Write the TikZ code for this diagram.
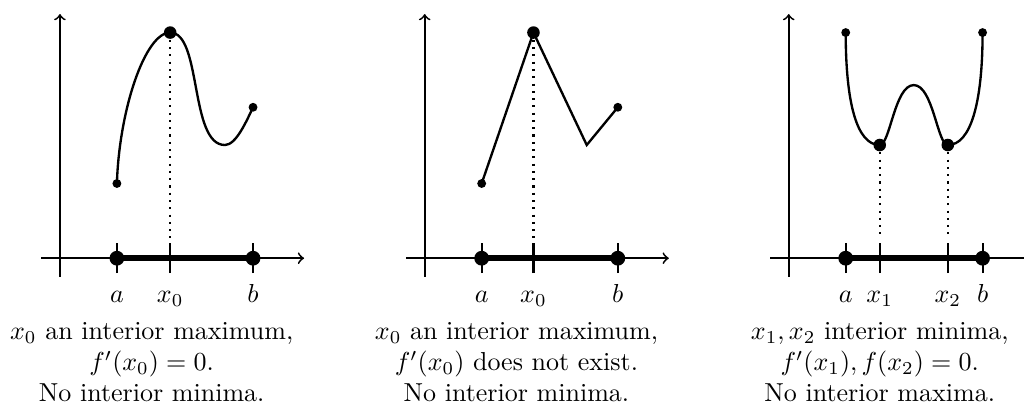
\documentclass[tikz,border=0pt]{standalone}
\usepackage{amsmath}
\usepackage{tikz}
\usetikzlibrary{positioning, calc}
\tikzset{
  eje/.style={line width=0.7pt},
  intervalo/.style={line width=2.2pt},
  marca/.style={line width=0.8pt},
  curva/.style={line width=0.9pt},
  guia/.style={dotted, line width=0.8pt},
  puntoeje/.style={circle, fill=black, inner sep=0pt, minimum size=2.0mm},
  puntoext/.style={circle, fill=black, inner sep=0pt, minimum size=1.7mm},
  puntoval/.style={circle, fill=black, inner sep=0pt, minimum size=1.2mm},
  etiqueta/.style={anchor=base, inner sep=0pt},
  leyenda/.style={align=center, anchor=north, inner sep=0pt}
}
% ejes de cada caso
\newcommand{\ejes}{
    \draw[eje,->] (-0.25,0) -- (3.3,0);
    \draw[eje,->] (0,-0.25) -- (0,3.3);
}

\begin{document}
\begin{tikzpicture}
        \clip (-0.81,-1.99) rectangle (13.03,3.49);

        % ==========================================
        % 1. Maximo interior con derivada cero
        % ==========================================
        \begin{scope}
        \ejes
        \coordinate (a1) at (0.77,0);
        \coordinate (x01) at (1.49,0);
        \coordinate (b1) at (2.61,0);
        \draw[intervalo] (a1) -- (b1);
        \foreach \p in {a1,x01,b1} \draw[marca] ($(\p)+(0,-0.2)$) -- ($(\p)+(0,0.2)$);

        % Curva
        \coordinate (fa1) at (0.77,1.01);
        \coordinate (M1) at (1.49,3.05);
        \coordinate (m1) at (2.23,1.53);
        \coordinate (fb1) at (2.61,2.04);
        \draw[guia] (M1) -- ($(x01)+(0,0.27)$);
        \draw[curva] (fa1) .. controls (0.8,2.0) and (1.15,3.05) .. (M1)
            .. controls (1.92,3.05) and (1.75,1.53) .. (m1)
            .. controls (2.38,1.53) and (2.52,1.85) .. (fb1);

        \node[puntoeje] (pa1) at (a1) {};
        \node[puntoeje] (pb1) at (b1) {};
        \node[puntoval] (pfa1) at (fa1) {};
        \node[puntoval] (pfb1) at (fb1) {};
        \node[puntoext] (pM1) at (M1) {};

        \node[etiqueta] (la1) at (0.77,-0.6) {$a$};
        \node[etiqueta] (lx01) at (1.49,-0.6) {$x_0$};
        \node[etiqueta] (lb1) at (2.61,-0.6) {$b$};
        \node[leyenda] (t1) at (1.24,-0.86) {$x_0$ an interior maximum,\\$f'(x_0)=0$.\\No interior minima.};
        \end{scope}

        % ==========================================
        % 2. Maximo interior sin derivada
        % ==========================================
        \begin{scope}[xshift=4.93cm]
        \ejes
        \coordinate (a2) at (0.77,0);
        \coordinate (x02) at (1.47,0);
        \coordinate (b2) at (2.61,0);
        \draw[intervalo] (a2) -- (b2);
        \foreach \p in {a2,x02,b2} \draw[marca] ($(\p)+(0,-0.2)$) -- ($(\p)+(0,0.2)$);

        % Poligonal
        \coordinate (fa2) at (0.77,1.01);
        \coordinate (M2) at (1.47,3.05);
        \coordinate (m2) at (2.19,1.53);
        \coordinate (fb2) at (2.61,2.04);
        \draw[guia] (M2) -- ($(x02)+(0,0.27)$);
        \draw[curva] (fa2) -- (M2) -- (m2) -- (fb2);

        \node[puntoeje] (pa2) at (a2) {};
        \node[puntoeje] (pb2) at (b2) {};
        \node[puntoval] (pfa2) at (fa2) {};
        \node[puntoval] (pfb2) at (fb2) {};
        \node[puntoext] (pM2) at (M2) {};

        \node[etiqueta] (la2) at (0.77,-0.6) {$a$};
        \node[etiqueta] (lx02) at (1.47,-0.6) {$x_0$};
        \node[etiqueta] (lb2) at (2.61,-0.6) {$b$};
        \node[leyenda] (t2) at (1.24,-0.86) {$x_0$ an interior maximum,\\$f'(x_0)$ does not exist.\\No interior minima.};
        \end{scope}

        % ==========================================
        % 3. Dos minimos interiores
        % ==========================================
        \begin{scope}[xshift=9.85cm]
        \ejes
        \coordinate (a3) at (0.77,0);
        \coordinate (x13) at (1.23,0);
        \coordinate (x23) at (2.15,0);
        \coordinate (b3) at (2.62,0);
        \draw[intervalo] (a3) -- (b3);
        \foreach \p in {a3,x13,x23,b3} \draw[marca] ($(\p)+(0,-0.2)$) -- ($(\p)+(0,0.2)$);

        % Curva en W
        \coordinate (fa3) at (0.77,3.05);
        \coordinate (m13) at (1.23,1.53);
        \coordinate (M3) at (1.69,2.34);
        \coordinate (m23) at (2.15,1.53);
        \coordinate (fb3) at (2.62,3.05);
        \draw[guia] (m13) -- ($(x13)+(0,0.27)$);
        \draw[guia] (m23) -- ($(x23)+(0,0.27)$);
        \draw[curva] (fa3) .. controls (0.77,2.1) and (0.92,1.53) .. (m13)
            .. controls (1.37,1.53) and (1.43,2.34) .. (M3)
            .. controls (1.95,2.34) and (2.01,1.53) .. (m23)
            .. controls (2.46,1.53) and (2.62,2.1) .. (fb3);

        \node[puntoeje] (pa3) at (a3) {};
        \node[puntoeje] (pb3) at (b3) {};
        \node[puntoval] (pfa3) at (fa3) {};
        \node[puntoval] (pfb3) at (fb3) {};
        \node[puntoext] (pm13) at (m13) {};
        \node[puntoext] (pm23) at (m23) {};

        \node[etiqueta] (la3) at (0.77,-0.6) {$a$};
        \node[etiqueta] (lx13) at (1.23,-0.6) {$x_1$};
        \node[etiqueta] (lx23) at (2.15,-0.6) {$x_2$};
        \node[etiqueta] (lb3) at (2.62,-0.6) {$b$};
        \node[leyenda] (t3) at (1.23,-0.86) {$x_1, x_2$ interior minima,\\$f'(x_1), f(x_2)=0$.\\No interior maxima.};
        \end{scope}

    \end{tikzpicture}
\end{document}
